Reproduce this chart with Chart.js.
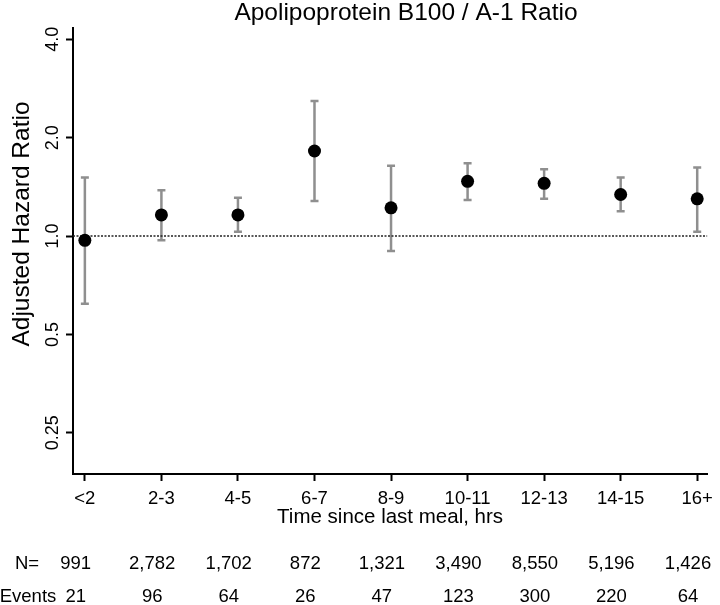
<!DOCTYPE html>
<html>
<head>
<meta charset="utf-8">
<title>Apolipoprotein B100 / A-1 Ratio</title>
<script src="https://cdn.jsdelivr.net/npm/chart.js@4.4.1/dist/chart.umd.min.js"></script>
<style>
  html, body { margin: 0; padding: 0; background: #fff; }
  #chart { display: block; }
</style>
</head>
<body>
<canvas id="chart" width="720" height="605"></canvas>
<script>
// Data
const categories = ['<2', '2-3', '4-5', '6-7', '8-9', '10-11', '12-13', '14-15', '16+'];
const hazardRatio = [0.97, 1.16, 1.16, 1.82, 1.22, 1.47, 1.45, 1.34, 1.30];
const ciLower = [0.62, 0.97, 1.03, 1.28, 0.90, 1.29, 1.30, 1.19, 1.03];
const ciUpper = [1.51, 1.38, 1.31, 2.59, 1.64, 1.67, 1.60, 1.51, 1.62];
const nCounts = ['991', '2,782', '1,702', '872', '1,321', '3,490', '8,550', '5,196', '1,426'];
const eventCounts = ['21', '96', '64', '26', '47', '123', '300', '220', '64'];
const yTicks = [0.25, 0.5, 1, 2, 4];
const yTickLabels = ['0.25', '0.5', '1.0', '2.0', '4.0'];
const referenceValue = 1;

const FONT = "'Liberation Sans', Arial, Helvetica, sans-serif";

// Error bars, reference line, titles and the N / Events table
const extrasPlugin = {
  id: 'extras',
  beforeDatasetsDraw(chart) {
    const { ctx, chartArea, scales: { x, y } } = chart;
    ctx.save();
    ctx.strokeStyle = '#8f8f8f';
    ctx.lineWidth = 2.5;
    categories.forEach((c, i) => {
      const px = x.getPixelForValue(i);
      const lo = y.getPixelForValue(ciLower[i]);
      const hi = y.getPixelForValue(ciUpper[i]);
      ctx.beginPath();
      ctx.moveTo(px, lo);
      ctx.lineTo(px, hi);
      ctx.moveTo(px - 4, lo);
      ctx.lineTo(px + 4, lo);
      ctx.moveTo(px - 4, hi);
      ctx.lineTo(px + 4, hi);
      ctx.stroke();
    });
    // dotted line at HR = 1
    const ry = y.getPixelForValue(referenceValue);
    ctx.strokeStyle = '#222';
    ctx.lineWidth = 1.4;
    ctx.setLineDash([2, 1.5]);
    ctx.beginPath();
    ctx.moveTo(chartArea.left, ry);
    ctx.lineTo(chartArea.right, ry);
    ctx.stroke();
    ctx.restore();
  },
  afterDraw(chart) {
    const { ctx, scales: { x } } = chart;
    ctx.save();
    ctx.fillStyle = '#000';
    ctx.textBaseline = 'middle';
    ctx.textAlign = 'center';

    ctx.font = '24.5px ' + FONT;
    ctx.fillText('Apolipoprotein B100 / A-1 Ratio', 406, 13);

    ctx.save();
    ctx.translate(22, 224);
    ctx.rotate(-Math.PI / 2);
    ctx.fillText('Adjusted Hazard Ratio', 0, 0);
    ctx.restore();

    ctx.font = '18.5px ' + FONT;
    ctx.fillText('N=', 27, 564);
    ctx.fillText('Events', 28, 597);
    categories.forEach((c, i) => {
      const px = x.getPixelForValue(i - 0.12);
      ctx.fillText(nCounts[i], px, 564);
      ctx.fillText(eventCounts[i], px, 597);
    });
    ctx.restore();
  }
};

const points = hazardRatio.map((v, i) => ({ x: i, y: v }));

new Chart(document.getElementById('chart'), {
  type: 'scatter',
  data: {
    datasets: [
      {
        data: points,
        pointRadius: 6.5,
        pointBackgroundColor: '#000',
        pointBorderWidth: 0
      },
      {
        data: points,
        pointRadius: 1.4,
        pointBackgroundColor: '#bdbdbd',
        pointBorderWidth: 0
      }
    ]
  },
  options: {
    responsive: false,
    animation: false,
    layout: { padding: { top: 28, right: 6, bottom: 71, left: 0 } },
    plugins: {
      legend: { display: false },
      tooltip: { enabled: false },
      title: { display: false }
    },
    scales: {
      x: {
        type: 'linear',
        min: -0.155,
        max: 8.13,
        border: { color: '#000', width: 2 },
        grid: { drawOnChartArea: false, tickLength: 7, tickWidth: 2, tickColor: '#000' },
        afterBuildTicks: scale => { scale.ticks = categories.map((c, i) => ({ value: i })); },
        afterFit: scale => { scale.height = 60; },
        ticks: {
          color: '#000',
          font: { family: FONT, size: 18.5 },
          padding: 7,
          maxRotation: 0,
          autoSkip: false,
          callback: v => categories[v]
        },
        title: {
          display: true,
          text: 'Time since last meal, hrs',
          color: '#000',
          font: { family: FONT, size: 20.5 },
          padding: { top: 0, bottom: 4 }
        }
      },
      y: {
        type: 'logarithmic',
        min: 0.187,
        max: 4.33,
        border: { color: '#000', width: 2 },
        grid: { drawOnChartArea: false, tickLength: 7, tickWidth: 2, tickColor: '#000' },
        afterBuildTicks: scale => { scale.ticks = yTicks.map(v => ({ value: v })); },
        afterFit: scale => { scale.width = 73; },
        ticks: {
          color: '#000',
          font: { family: FONT, size: 18 },
          minRotation: 90,
          maxRotation: 90,
          crossAlign: 'center',
          padding: -4.5,
          callback: v => yTickLabels[yTicks.indexOf(v)]
        }
      }
    }
  },
  plugins: [extrasPlugin]
});
</script>
</body>
</html>
